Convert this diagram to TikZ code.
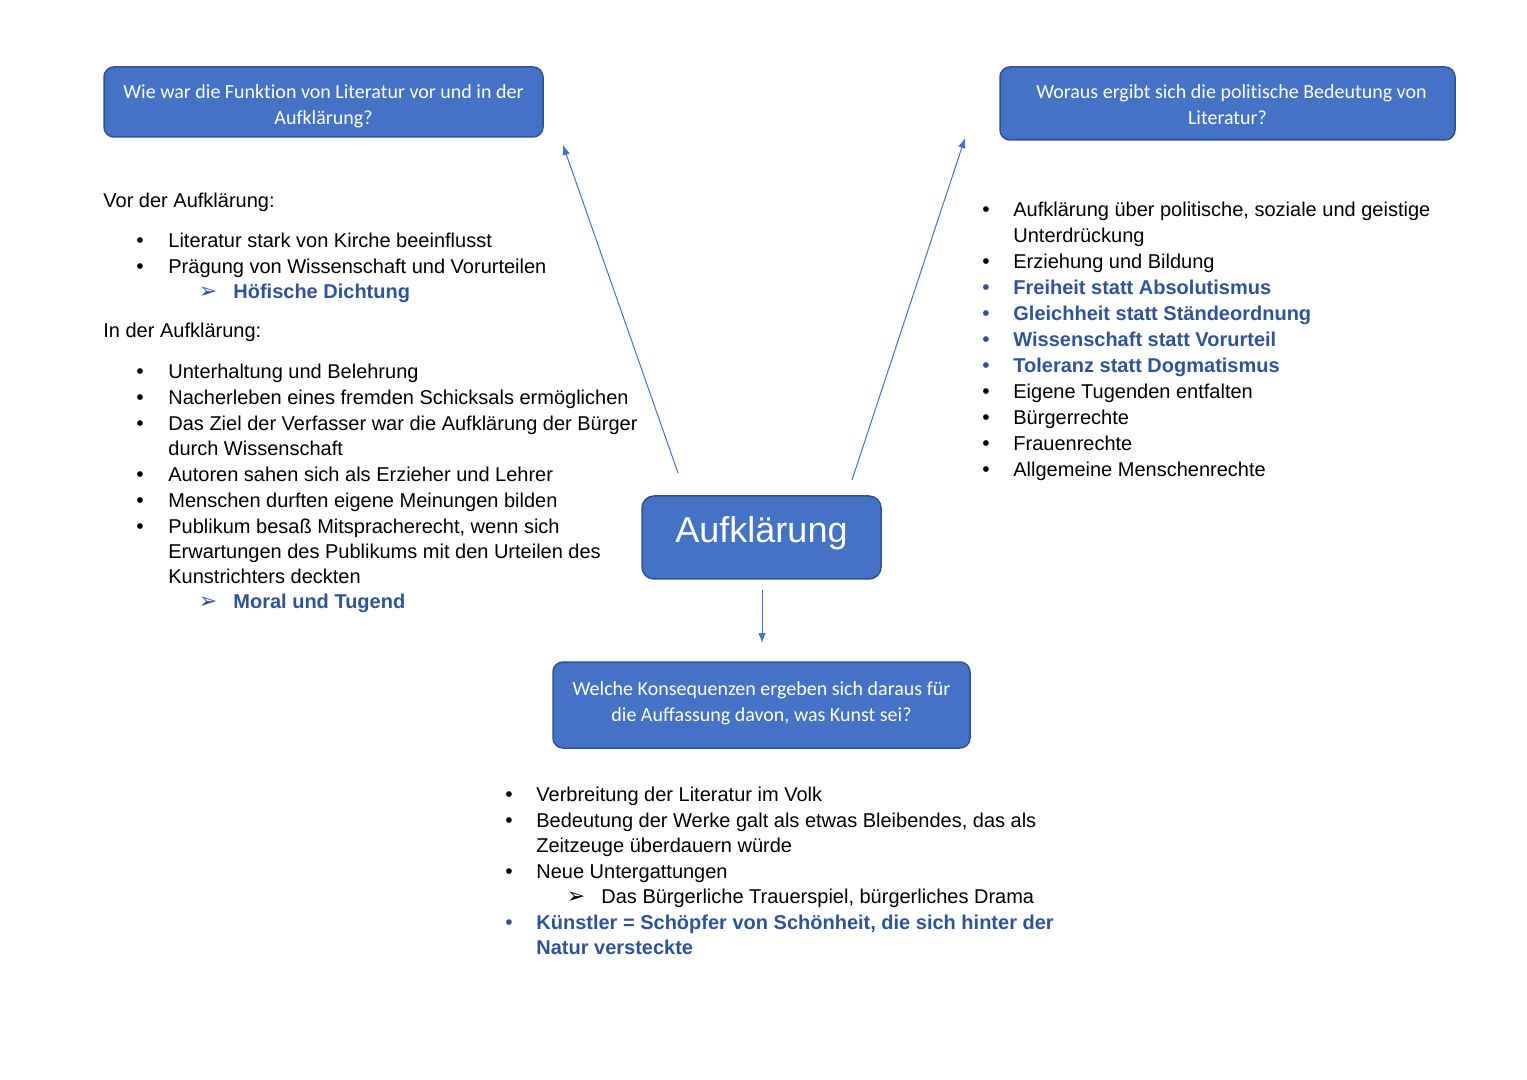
\documentclass[tikz,border=0pt]{standalone}
\usepackage{fontspec}
\setmainfont{Liberation Sans}
\newfontfamily\boxfont[Ligatures=NoCommon]{Carlito}
\newfontfamily\symfont{DejaVu Sans}
\usetikzlibrary{arrows.meta}
\definecolor{boxfill}{HTML}{4472C4}
\definecolor{boxdraw}{HTML}{2F528F}
\definecolor{hl}{HTML}{2F5496}
\definecolor{arr}{HTML}{4472C4}
\begin{document}
\begin{tikzpicture}[x=0.5pt,y=-0.5pt,
 qbox/.style={draw=boxdraw, line width=0.75pt, fill=boxfill, rounded corners=5pt, text=white,
   font=\boxfont\fontsize{10}{13}\selectfont, align=center, inner sep=0pt},
 txt/.style={anchor=base west, inner sep=0pt, yshift=-0.5pt, font=\fontsize{10}{13}\selectfont},
 hltxt/.style={anchor=base west, inner sep=0pt, yshift=-0.5pt, text=hl, font=\fontsize{10}{13}\selectfont\bfseries},
 bul/.style={anchor=base, inner sep=0pt, yshift=-0.5pt, font=\fontsize{10.5}{13}\selectfont},
 hlbul/.style={bul, text=hl},
 arw/.style={anchor=base, inner sep=0pt, yshift=-0.5pt, font=\symfont\fontsize{11}{13}\selectfont},
 conn/.style={draw=arr, line width=0.5pt, -{Latex[length=5pt,width=3.8pt]}}
]
\useasboundingbox (0,0) rectangle (1527,1080);

% question boxes
\node[qbox, minimum width=219.5pt, minimum height=35pt, text height=26.1pt, text depth=3.9pt] (q1) at (323.5,102)
  {\strut Wie war die Funktion von Literatur vor und in der\\\strut Aufklärung?};
\node[qbox, minimum width=227.5pt, minimum height=36.5pt, text height=25.1pt, text depth=3.9pt] (q2) at (1227.5,103.5)
  {\strut\hspace{4pt}Woraus ergibt sich die politische Bedeutung von\\\strut Literatur?};
\node[qbox, minimum width=208.5pt, minimum height=43pt] (q3) at (761.5,705)
  {\strut Welche Konsequenzen ergeben sich daraus für\\\strut die Auffassung davon, was Kunst sei?\\[-11pt]\strut};
\node[qbox, rounded corners=6pt, minimum width=119.5pt, minimum height=41.5pt,
  font=\fontsize{18}{20}\selectfont, text height=13pt, text depth=7.8pt] (center) at (761.5,537.5) {Aufklärung};

% connectors
\coordinate (a1s) at (678,473); \coordinate (a1e) at (563,145);
\coordinate (a2s) at (852,480); \coordinate (a2e) at (965,138);
\coordinate (a3s) at (762,590); \coordinate (a3e) at (762,643);
\draw[conn] (a1s) -- (a1e);
\draw[conn] (a2s) -- (a2e);
\draw[conn] (a3s) -- (a3e);

% left text
\node[txt] (vor) at (103,207) {Vor der Aufklärung:};
\node[bul] (lb1) at (140,247) {•}; \node[txt] (lt1) at (168,247) {Literatur stark von Kirche beeinflusst};
\node[bul] (lb2) at (140,273) {•}; \node[txt] (lt2) at (168,273) {Prägung von Wissenschaft und Vorurteilen};
\node[arw, text=hl] (la1) at (208,298) {➢}; \node[hltxt] (lt3) at (233,298) {Höfische Dichtung};
\node[txt] (inder) at (103,337) {In der Aufklärung:};
\node[bul] (lb3) at (140,378) {•}; \node[txt] (lt4) at (168,378) {Unterhaltung und Belehrung};
\node[bul] (lb4) at (140,404) {•}; \node[txt] (lt5) at (168,404) {Nacherleben eines fremden Schicksals ermöglichen};
\node[bul] (lb5) at (140,430) {•}; \node[txt] (lt6) at (168,430) {Das Ziel der Verfasser war die Aufklärung der Bürger};
\node[txt] (lt7) at (168,455) {durch Wissenschaft};
\node[bul] (lb6) at (140,481) {•}; \node[txt] (lt8) at (168,481) {Autoren sahen sich als Erzieher und Lehrer};
\node[bul] (lb7) at (140,507) {•}; \node[txt] (lt9) at (168,507) {Menschen durften eigene Meinungen bilden};
\node[bul] (lb8) at (140,533) {•}; \node[txt] (lt10) at (168,533) {Publikum besaß Mitspracherecht, wenn sich};
\node[txt] (lt11) at (168,558) {Erwartungen des Publikums mit den Urteilen des};
\node[txt] (lt12) at (168,583) {Kunstrichters deckten};
\node[arw, text=hl] (la2) at (208,608) {➢}; \node[hltxt] (lt13) at (233,608) {Moral und Tugend};

% right text
\node[bul] (rb1) at (986,216) {•}; \node[txt] (rt1) at (1013,216) {Aufklärung über politische, soziale und geistige};
\node[txt] (rt2) at (1013,242) {Unterdrückung};
\node[bul] (rb2) at (986,268) {•}; \node[txt] (rt3) at (1013,268) {Erziehung und Bildung};
\node[hlbul] (rb3) at (986,294) {•}; \node[hltxt] (rt4) at (1013,294) {Freiheit statt Absolutismus};
\node[hlbul] (rb4) at (986,320) {•}; \node[hltxt] (rt5) at (1013,320) {Gleichheit statt Ständeordnung};
\node[hlbul] (rb5) at (986,346) {•}; \node[hltxt] (rt6) at (1013,346) {Wissenschaft statt Vorurteil};
\node[hlbul] (rb6) at (986,372) {•}; \node[hltxt] (rt7) at (1013,372) {Toleranz statt Dogmatismus};
\node[bul] (rb7) at (986,398) {•}; \node[txt] (rt8) at (1013,398) {Eigene Tugenden entfalten};
\node[bul] (rb8) at (986,424) {•}; \node[txt] (rt9) at (1013,424) {Bürgerrechte};
\node[bul] (rb9) at (986,450) {•}; \node[txt] (rt10) at (1013,450) {Frauenrechte};
\node[bul] (rb10) at (986,476) {•}; \node[txt] (rt11) at (1013,476) {Allgemeine Menschenrechte};

% bottom text
\node[bul] (bb1) at (509,800) {•}; \node[txt] (bt1) at (536,800) {Verbreitung der Literatur im Volk};
\node[bul] (bb2) at (509,826) {•}; \node[txt] (bt2) at (536,826) {Bedeutung der Werke galt als etwas Bleibendes, das als};
\node[txt] (bt3) at (536,851) {Zeitzeuge überdauern würde};
\node[bul] (bb3) at (509,877) {•}; \node[txt] (bt4) at (536,877) {Neue Untergattungen};
\node[arw] (ba1) at (576,902) {➢}; \node[txt] (bt5) at (601,902) {Das Bürgerliche Trauerspiel, bürgerliches Drama};
\node[hlbul] (bb4) at (509,928) {•}; \node[hltxt] (bt6) at (536,928) {Künstler = Schöpfer von Schönheit, die sich hinter der};
\node[hltxt] (bt7) at (536,953) {Natur versteckte};
\end{tikzpicture}
\end{document}
